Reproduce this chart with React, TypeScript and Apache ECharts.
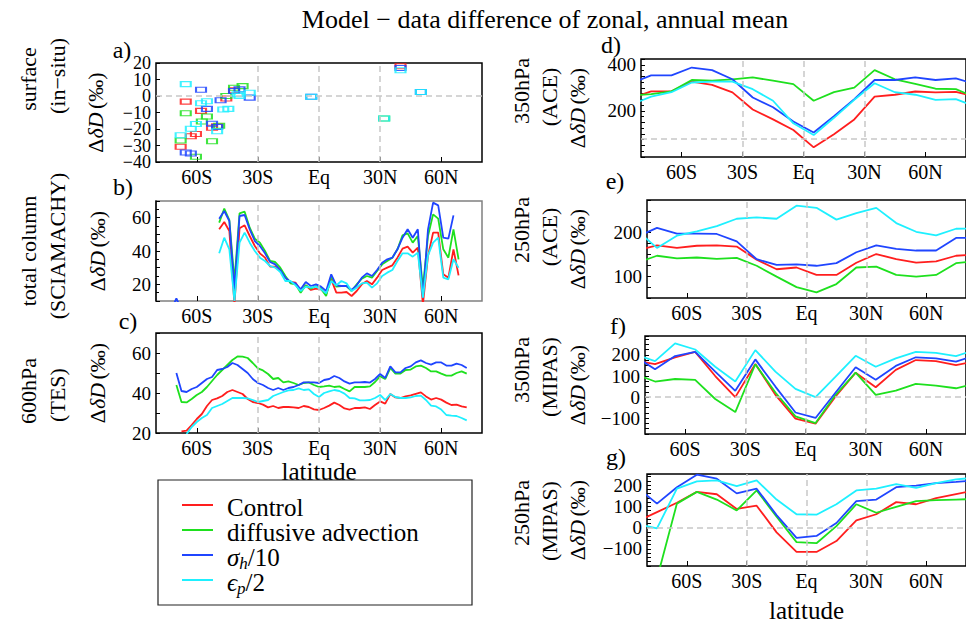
import React, { useEffect, useRef } from "react";
import * as echarts from "echarts";

// ---------------- data ----------------
const LAT_TICKS = [-60, -30, 0, 30, 60];
const GUIDE_LATS = [-30, 0, 30];
const A_LABELS_EVEN = [20, 0, -20, -40];
const A_LABELS_ODD = [10, -10, -30];

// right-hand panels (10 degree bands)
const LAT_R = [-85, -75, -65, -55, -45, -35, -25, -15, -5, 5, 15, 25, 35, 45, 55, 65, 75, 85];

const D_CONTROL = [255, 285, 285, 327, 313, 280, 206, 163, 117, 42, 99, 163, 262, 270, 284, 280, 282, 262];
const D_DIFFUSIVE = [267, 273, 285, 334, 331, 337, 345, 331, 316, 244, 281, 301, 377, 337, 317, 296, 294, 258];
const D_SIGMA = [320, 354, 354, 388, 377, 337, 258, 216, 154, 106, 177, 251, 334, 334, 345, 334, 341, 315];
const D_EPS = [226, 262, 281, 323, 327, 327, 294, 244, 146, 95, 170, 248, 320, 281, 270, 248, 251, 217];

const E_CONTROL = [159, 171, 165, 170, 171, 168, 138, 116, 120, 103, 103, 131, 151, 139, 131, 134, 147, 150];
const E_DIFFUSIVE = [131, 147, 141, 143, 140, 142, 124, 99, 75, 63, 82, 120, 122, 103, 99, 103, 130, 135];
const E_SIGMA = [191, 211, 198, 198, 197, 180, 139, 126, 127, 124, 130, 155, 171, 163, 159, 159, 188, 188];
const E_EPS = [205, 165, 193, 203, 215, 232, 235, 232, 262, 257, 230, 245, 257, 222, 202, 194, 209, 210];

const F_CONTROL = [173, 157, 189, 215, 100, 0, 157, 11, -102, -126, 3, 116, 47, 129, 176, 171, 152, 170];
const F_DIFFUSIVE = [110, 74, 86, 82, -9, -71, 156, 22, -91, -123, 11, 116, 11, 31, 63, 55, 42, 65];
const F_SIGMA = [194, 132, 195, 215, 121, 30, 179, 50, -73, -99, 22, 142, 82, 148, 189, 184, 168, 200];
const F_EPS = [203, 171, 255, 226, 144, 74, 223, 121, 39, 0, 97, 196, 144, 184, 215, 210, 195, 225];

const G_CONTROL = [29, 73, 117, 168, 157, 88, 103, -22, -114, -114, -63, 34, 63, 120, 110, 139, 158, 175];
const G_DIFFUSIVE = [-250, -240, 113, 168, 132, 81, 175, 51, -68, -73, 7, 110, 70, 98, 125, 129, 132, 135];
const G_SIGMA = [189, 113, 190, 249, 230, 161, 183, 59, -48, -39, 22, 125, 132, 190, 197, 209, 215, 222];
const G_EPS = [17, -3, 183, 217, 222, 195, 222, 132, 63, 61, 110, 175, 183, 205, 187, 209, 227, 235];

// panel b: total column (SCIAMACHY)
const LAT_B = [-49, -46.5, -44, -41.5, -39, -36.5, -34, -31.5, -29, -26.5, -24, -21.5, -19, -16.5, -14, -11.5,
  -9, -6.5, -4, -1.5, 1, 3.5, 6, 8.5, 11, 13.5, 16, 18.5, 21, 23.5, 26, 28.5, 31, 33.5, 36, 38.5, 41, 43.5,
  46, 48.5, 51, 53.5, 56, 58.5, 61, 63.5, 66, 68.5];
const B_CONTROL = [53, 57.4, 52, 8, 53.6, 55.4, 49, 43, 38.6, 36, 30.6, 30.6, 28, 24, 21.4, 21, 16, 19.4, 16.6, 17.4,
  17, 14, 23, 15, 15, 15.4, 13, 16, 20, 22, 20, 24, 28.6, 30, 31.4, 36, 41.4, 42.6, 39, 42,
  8, 37, 51, 51, 26, 24, 41, 25.4];
const B_DIFFUSIVE = [57, 65.4, 58.6, 22, 62.6, 63.6, 54, 47.4, 45, 40, 34, 33.4, 30, 25, 20.6, 20, 15, 19.5, 17.4, 19,
  17.4, 13, 25, 18.6, 19, 19, 16, 20, 23.4, 25, 24, 28, 32, 34, 36, 41, 49.4, 50.6, 45, 49,
  18, 49, 62, 59.4, 41, 36, 53, 35];
const B_SIGMA = [59.4, 64, 58, 17, 61, 61.6, 53, 46, 43, 38.6, 33.4, 32, 28.6, 24, 21.4, 20.6, 17, 21.4, 19, 20,
  18.6, 16, 26, 19.4, 19, 19, 16.6, 19.4, 24, 26.6, 25, 28.6, 33, 35, 36, 41, 48, 53, 48, 53,
  12, 53, 69, 67.4, 48, 47.4, 61.4];
const B_EPS = [38.6, 48, 41, 10, 45, 51, 45, 40, 36, 34, 31, 30, 27.4, 22, 22, 19.4, 16, 18.6, 18, 18.6,
  17, 14.6, 22, 19.4, 22, 20.6, 16, 18, 20.6, 21, 18, 20.6, 25, 27, 28.6, 34, 38.6, 38.6, 36.6, 39,
  12, 37.4, 45, 48, 24, 23, 35, 30];
const B_SIGMA_SOUTH_LAT = [-72.5, -70, -67.5];
const B_SIGMA_SOUTH = [5, 11.5, 5];

// panel c: 600hPa (TES)
const LAT_C = [-70, -67.5, -65, -62.5, -60, -57.5, -55, -52.5, -50, -47.5, -45, -42.5, -40, -37.5, -35, -32.5,
  -30, -27.5, -25, -22.5, -20, -17.5, -15, -12.5, -10, -7.5, -5, -2.5, 0, 2.5, 5, 7.5, 10, 12.5, 15, 17.5,
  20, 22.5, 25, 27.5, 30, 32.5, 35, 37.5, 40, 42.5, 45, 47.5, 50, 52.5, 55, 57.5, 60, 62.5, 65, 67.5, 70, 72.5];
const C_CONTROL = [null, 20.8, 21.2, 24, 27, 29.5, 33.5, 36.5, 37.3, 38.5, 40.5, 41.5, 40.5, 39.5, 37, 35.5, 35, 34.2,
  32.8, 33.5, 32.5, 33, 33, 32.8, 32.5, 33.5, 33, 31.8, 31.5, 32.5, 33.7, 35.2, 34, 32.3, 31.7, 32.5, 32.5, 32.8,
  32, 34, 35.8, 34.7, 39.5, 37.8, 37.5, 38.3, 38.8, 39.6, 40.3, 38.3, 36.7, 37.5, 36.7, 35.2, 34, 34.2, 33.3, 32.8];
const C_DIFFUSIVE = [44, 35.5, 35.3, 37, 39, 40.5, 43, 46, 49, 51.5, 54, 56.5, 58.3, 58.2, 57.5, 55, 52.3, 51.3,
  49.5, 47, 47.5, 45.3, 45.8, 45, 44, 45, 45.3, 44, 43, 43.3, 43.7, 43, 43.3, 42, 40.8, 43, 43, 43,
  43.3, 45.5, 48.3, 47, 52.5, 49.7, 49.7, 51.5, 51.7, 53.3, 53.7, 52.5, 50.8, 50.8, 49.7, 48.7, 48.7, 50, 50.8, 49.7];
const C_SIGMA = [50, 41, 40.5, 42, 43, 45, 47, 48, 51.5, 52, 53, 55, 54, 52, 50, 47, 45, 44, 42.5, 41.5,
  42.5, 41.5, 42.5, 43, 44, 45.3, 45.3, 45.3, 45, 46.5, 47, 48.5, 47.5, 45.8, 44.7, 45.3, 45.3, 45.5, 45.2, 47,
  49.5, 47.5, 53.3, 50.3, 50.3, 52.5, 53.3, 55.3, 56.3, 55, 54.2, 55.3, 55.3, 53.7, 53.7, 54.7, 54, 52.5];
const C_EPS = [null, null, 19.5, 23, 25.5, 27.5, 29, 32.5, 33.5, 34.5, 36, 37.5, 37.5, 37.5, 37.3, 36.5, 35.5, 36,
  36.5, 38.5, 39.5, 40.5, 41.3, 41.5, 42.3, 41.5, 41.8, 39.5, 38, 40, 40.8, 41.5, 41, 39.7, 37.5, 37.3, 36.3, 36.3,
  36.5, 37.5, 39, 36.5, 39.5, 38, 37.5, 37.5, 37.8, 38.5, 38.7, 36.5, 33.7, 33.3, 31.7, 29, 28.7, 28.5, 27.5, 26.3];

// panel a: surface in-situ stations [lat, value]
const A_CONTROL = [[-65.4, -3.4], [-57.9, -9], [-52.5, -19.2], [-50, -18.4], [-62.9, -24.4], [-60.4, -23],
  [-67.9, -30.8], [-41.7, 3.4], [-45.5, -1.5], [40, 18]];
const A_DIFFUSIVE = [[-65.4, -10.4], [-55, -12.4], [-57.5, -15.4], [-52.5, -27.4], [-67.9, -27], [-60.4, -36.8],
  [-49, -18], [-45.5, 0], [-41.7, 5], [-37.5, 6], [32, -13.6]];
const A_SIGMA = [[-57.9, 3.8], [-55, -7.8], [-52.5, -16.8], [-50, -18.8], [-65.4, -34.2], [-62.9, -34.8],
  [-48.3, -2.6], [-41.7, 3], [-39, 4], [-34, -1], [-3.8, -0.4], [40, 17], [50, 2.4]];
const A_EPS = [[-65.4, 7.2], [-57.9, -4.4], [-55, -3.2], [-60.4, -17], [-62.9, -19.8], [-50, -21.4], [-67.9, -23.8],
  [-47, -8.2], [-44.5, -7.8], [-40, 1], [-39, 0], [-34, 2], [-3.8, -0.4], [32, -13.6], [40, 15.6], [50, 2.4]];

const SERIES_NAMES = ["Control", "diffusive advection", "σh/10", "εp/2"];

// ---------------- styles ----------------
const FONT = "Liberation Serif";
const COLORS = ["#ff1e1e", "#1ee01e", "#1f45ff", "#1ef0ff"];
const GUIDE = "#c8c8c8";

const latLabel = (v: number) => (v === 0 ? "Eq" : v < 0 ? `${-v}S` : `${v}N`);
const minus = (v: number) => String(v).replace("-", "\u2212");

const Y_NAME = "{r|Δ}{i|δD} {r|(‰)}";
const Y_RICH = {
  r: { fontFamily: FONT, fontSize: 22, color: "#000" },
  i: { fontFamily: FONT, fontSize: 22, fontStyle: "italic", color: "#000" },
};

type Panel = {
  grid: { left: number; top: number; width: number; height: number };
  min: number; max: number; interval: number; labels: number[]; custom?: number[];
  border: string; axisLine: boolean; nameGap: number; minor: boolean;
  h: number[]; xName?: string; xNameGap?: number;
};

const PANELS: Panel[] = [
  { grid: { left: 156, top: 63, width: 326, height: 99 }, min: -40, max: 20, interval: 10, labels: A_LABELS_EVEN, custom: A_LABELS_EVEN, border: "#000", axisLine: false, nameGap: 50, minor: false, h: [0] },
  { grid: { left: 156, top: 201, width: 326, height: 100 }, min: 10, max: 70, interval: 10, labels: [20, 40, 60], border: "#808080", axisLine: true, nameGap: 48, minor: true, h: [] },
  { grid: { left: 156, top: 333, width: 326, height: 100 }, min: 20, max: 70, interval: 10, labels: [20, 40, 60], border: "#000", axisLine: false, nameGap: 48, minor: false, h: [], xName: "latitude", xNameGap: 21 },
  { grid: { left: 641, top: 59, width: 326, height: 98 }, min: 0, max: 425, interval: 50, labels: [200, 400], border: "#000", axisLine: false, nameGap: 53, minor: true, h: [80] },
  { grid: { left: 647, top: 200, width: 326, height: 98 }, min: 50, max: 275, interval: 25, labels: [100, 200], border: "#000", axisLine: false, nameGap: 59, minor: false, h: [] },
  { grid: { left: 645, top: 336, width: 326, height: 98 }, min: -175, max: 290, interval: 25, labels: [-100, 0, 100, 200], border: "#000", axisLine: false, nameGap: 57, minor: false, h: [0] },
  { grid: { left: 647, top: 474, width: 326, height: 99 }, min: -180, max: 252, interval: 20, labels: [-100, 0, 100, 200], border: "#000", axisLine: false, nameGap: 59, minor: false, h: [0], xName: "latitude", xNameGap: 32 },
];

function lineSeries(gi: number, lats: number[], vals: (number | null)[], ci: number) {
  return {
    type: "line",
    name: SERIES_NAMES[ci],
    xAxisIndex: gi,
    yAxisIndex: gi,
    data: lats.map((x, k) => [x, vals[k]]).filter((d) => d[1] !== null && d[1] !== undefined),
    showSymbol: false,
    symbol: "none",
    lineStyle: { color: COLORS[ci], width: 1.8 },
    itemStyle: { color: COLORS[ci] },
    silent: true,
    clip: true,
    z: 3,
  };
}

function scatterSeries(gi: number, pts: number[][], ci: number) {
  return {
    type: "scatter",
    name: SERIES_NAMES[ci],
    xAxisIndex: gi,
    yAxisIndex: gi,
    data: pts,
    symbol: "rect",
    symbolSize: [10, 5],
    itemStyle: { color: "rgba(0,0,0,0)", borderColor: COLORS[ci], borderWidth: 1.5, opacity: 0.85 },
    silent: true,
    z: 3,
  };
}

function guideSeries(gi: number, h: number[]) {
  return {
    type: "line",
    xAxisIndex: gi,
    yAxisIndex: gi,
    data: [],
    silent: true,
    z: 1,
    markLine: {
      silent: true,
      symbol: ["none", "none"],
      label: { show: false },
      animation: false,
      lineStyle: { color: GUIDE, type: [6, 4], width: 1.5 },
      emphasis: { disabled: true },
      data: [...GUIDE_LATS.map((x) => ({ xAxis: x })), ...h.map((y) => ({ yAxis: y }))],
    },
  };
}

function txt(x: number, y: number, text: string, size: number, rot = 0, rich?: any) {
  return {
    type: "text",
    x,
    y,
    rotation: rot,
    silent: true,
    style: {
      text,
      fontFamily: FONT,
      fontSize: size,
      fill: "#000",
      align: "center",
      verticalAlign: "middle",
      textAlign: "center",
      textVerticalAlign: "middle",
      rich,
    },
  };
}

function buildOption() {
  const grids = PANELS.map((p) => ({
    ...p.grid,
    show: true,
    borderColor: p.border,
    borderWidth: 1.5,
    backgroundColor: "transparent",
    containLabel: false,
  }));

  const xAxes = PANELS.map((p, i) => ({
    gridIndex: i,
    type: "value",
    min: -80,
    max: 80,
    axisLine: { show: false, onZero: false },
    splitLine: { show: false },
    axisTick: { show: true, inside: true, length: 5, customValues: LAT_TICKS, lineStyle: { color: "#000", width: 1 } },
    axisLabel: { customValues: LAT_TICKS, formatter: latLabel, fontFamily: FONT, fontSize: 20, color: "#000", margin: 5 },
    name: p.xName || "",
    nameLocation: "middle",
    nameGap: p.xNameGap || 33,
    nameTextStyle: { fontFamily: FONT, fontSize: 25, color: "#000" },
  }));

  const yAxes: any[] = PANELS.map((p, i) => {
    const label: any = {
      formatter: (v: number) => (p.labels.includes(Math.round(v)) ? minus(Math.round(v)) : ""),
      fontFamily: FONT,
      fontSize: 19,
      color: "#000",
      margin: 5,
      showMinLabel: true,
      showMaxLabel: true,
    };
    if (p.custom) {
      label.customValues = p.custom;
      label.fontSize = 18;
      label.lineHeight = 15;
    }
    return {
      gridIndex: i,
      type: "value",
      min: p.min,
      max: p.max,
      interval: p.interval,
      axisLine: { show: p.axisLine, onZero: false, lineStyle: { color: "#000", width: 1.5 } },
      axisTick: { show: true, inside: true, length: 4, lineStyle: { color: "#000" } },
      minorTick: { show: p.minor, splitNumber: 2, length: 3, lineStyle: { color: "#000" } },
      splitLine: { show: false },
      axisLabel: label,
      name: Y_NAME,
      nameLocation: "middle",
      nameRotate: 90,
      nameGap: p.nameGap,
      nameTextStyle: { rich: Y_RICH },
    };
  });
  // second label axis for panel a (the odd tens), same scale as panel a
  yAxes.push({
    gridIndex: 0,
    type: "value",
    position: "left",
    min: PANELS[0].min,
    max: PANELS[0].max,
    interval: 10,
    axisLine: { show: false, onZero: false },
    axisTick: { show: false },
    splitLine: { show: false },
    axisLabel: {
      customValues: A_LABELS_ODD,
      formatter: (v: number) => minus(Math.round(v)),
      fontFamily: FONT,
      fontSize: 18,
      lineHeight: 15,
      color: "#000",
      margin: 5,
    },
  });

  const series: any[] = [];
  PANELS.forEach((p, i) => series.push(guideSeries(i, p.h)));

  [A_CONTROL, A_DIFFUSIVE, A_SIGMA, A_EPS].forEach((pts, ci) => series.push(scatterSeries(0, pts, ci)));
  [B_CONTROL, B_DIFFUSIVE, B_SIGMA, B_EPS].forEach((v, ci) => series.push(lineSeries(1, LAT_B, v, ci)));
  series.push(lineSeries(1, B_SIGMA_SOUTH_LAT, B_SIGMA_SOUTH, 2));
  [C_CONTROL, C_DIFFUSIVE, C_SIGMA, C_EPS].forEach((v, ci) => series.push(lineSeries(2, LAT_C, v, ci)));
  [D_CONTROL, D_DIFFUSIVE, D_SIGMA, D_EPS].forEach((v, ci) => series.push(lineSeries(3, LAT_R, v, ci)));
  [E_CONTROL, E_DIFFUSIVE, E_SIGMA, E_EPS].forEach((v, ci) => series.push(lineSeries(4, LAT_R, v, ci)));
  [F_CONTROL, F_DIFFUSIVE, F_SIGMA, F_EPS].forEach((v, ci) => series.push(lineSeries(5, LAT_R, v, ci)));
  [G_CONTROL, G_DIFFUSIVE, G_SIGMA, G_EPS].forEach((v, ci) => series.push(lineSeries(6, LAT_R, v, ci)));

  const R = Math.PI / 2;
  const legendRich = {
    n: { fontFamily: FONT, fontSize: 25, color: "#000", lineHeight: 30 },
    i: { fontFamily: FONT, fontSize: 25, fontStyle: "italic", color: "#000", lineHeight: 30 },
    s: { fontFamily: FONT, fontSize: 17, fontStyle: "italic", color: "#000", lineHeight: 17, verticalAlign: "bottom" },
  };
  const legendY = [505, 530, 555, 580];
  const legendText = ["{n|Control}", "{n|diffusive advection}", "{i|σ}{s|h}{n|/10}", "{i|ϵ}{s|p}{n|/2}"];

  const graphic: any[] = [
    txt(545, 19, "Model \u2212 data difference of zonal, annual mean", 26),
    txt(28, 79, "surface", 22, R),
    txt(57, 76, "(in\u2212situ)", 22, R),
    txt(28, 251, "total column", 22, R),
    txt(57, 246, "(SCIAMACHY)", 22, R),
    txt(28, 391, "600hPa", 22, R),
    txt(57, 395, "(TES)", 22, R),
    txt(521, 91, "350hPa", 22, R),
    txt(549, 97, "(ACE)", 22, R),
    txt(521, 230, "250hPa", 22, R),
    txt(549, 237, "(ACE)", 22, R),
    txt(521, 370, "350hPa", 22, R),
    txt(549, 377, "(MIPAS)", 22, R),
    txt(521, 513, "250hPa", 22, R),
    txt(549, 521, "(MIPAS)", 22, R),
    txt(122, 50, "a)", 24),
    txt(123, 187, "b)", 24),
    txt(128, 321, "c)", 24),
    txt(611, 45, "d)", 24),
    txt(615, 181, "e)", 24),
    txt(618, 326, "f)", 24),
    txt(616, 457, "g)", 24),
    {
      type: "rect",
      silent: true,
      shape: { x: 158, y: 480, width: 314, height: 125 },
      style: { fill: "#fff", stroke: "#222", lineWidth: 1.2 },
      z: 10,
    },
  ];
  legendY.forEach((y, k) => {
    graphic.push({
      type: "line",
      silent: true,
      z: 11,
      shape: { x1: 182, y1: y, x2: 213, y2: y },
      style: { stroke: COLORS[k], lineWidth: 2 },
    });
    graphic.push({
      type: "text",
      silent: true,
      z: 11,
      x: 227,
      y: y + 2,
      style: {
        text: legendText[k],
        rich: legendRich,
        fontFamily: FONT,
        fontSize: 25,
        fill: "#000",
        align: "left",
        verticalAlign: "middle",
        textAlign: "left",
        textVerticalAlign: "middle",
      },
    });
  });

  return {
    animation: false,
    backgroundColor: "#fff",
    grid: grids,
    xAxis: xAxes,
    yAxis: yAxes,
    series,
    graphic,
  };
}

export default function App() {
  const ref = useRef<HTMLDivElement>(null);
  useEffect(() => {
    if (!ref.current) return;
    const chart = echarts.init(ref.current, undefined, { renderer: "svg" });
    chart.setOption(buildOption() as any);
    return () => chart.dispose();
  }, []);
  return <div ref={ref} style={{ position: "absolute", left: 0, top: 0, width: 966, height: 624 }} />;
}
